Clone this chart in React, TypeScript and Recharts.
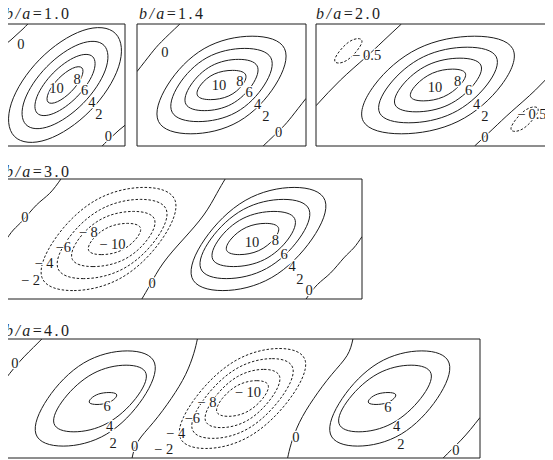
import { ScatterChart, Scatter, XAxis, YAxis, ReferenceArea } from "recharts";

const FONT = "'Liberation Serif', 'DejaVu Serif', serif";
const INK = "#1c1c1c";

// Closed loops are drawn as closed B-splines through these points.

// b/a = 1.0
const p1Solid = [
  [[0.967, 0.967], [0.995, 0.665], [0.733, 0.267], [0.335, 0.005], [0.033, 0.033], [0.005, 0.335], [0.267, 0.733], [0.665, 0.995]],
  [[0.86, 0.86], [0.873, 0.637], [0.667, 0.333], [0.363, 0.127], [0.14, 0.14], [0.127, 0.363], [0.333, 0.667], [0.637, 0.873]],
  [[0.757, 0.757], [0.757, 0.603], [0.609, 0.391], [0.397, 0.243], [0.243, 0.243], [0.243, 0.397], [0.391, 0.609], [0.603, 0.757]],
  [[0.656, 0.656], [0.651, 0.569], [0.559, 0.441], [0.431, 0.349], [0.344, 0.344], [0.349, 0.431], [0.441, 0.559], [0.569, 0.651]],
];
const p1Zero = [
  [[0, 0.83], [0.05, 0.87], [0.1, 0.915], [0.15, 0.96], [0.19, 1]],
  [[0.81, 0], [0.85, 0.04], [0.9, 0.085], [0.95, 0.13], [1, 0.17]],
];
const p1Labels = [
  { x: 0.43, y: 0.473, t: "10" }, { x: 0.6, y: 0.55, t: "8" }, { x: 0.663, y: 0.455, t: "6" },
  { x: 0.724, y: 0.36, t: "4" }, { x: 0.782, y: 0.262, t: "2" }, { x: 0.133, y: 0.838, t: "0" },
  { x: 0.862, y: 0.081, t: "0" },
];

// b/a = 1.4
const p2Solid = [
  [[0.5285, 0.84], [0.959, 0.93], [1.2765, 0.84], [1.163, 0.5], [0.8515, 0.16], [0.421, 0.07], [0.1035, 0.16], [0.217, 0.5]],
  [[0.554, 0.755], [0.894, 0.8225], [1.149, 0.755], [1.066, 0.5], [0.826, 0.245], [0.486, 0.1775], [0.231, 0.245], [0.314, 0.5]],
  [[0.5965, 0.6785], [0.8405, 0.726], [1.0215, 0.6785], [0.959, 0.5], [0.7835, 0.3215], [0.5395, 0.274], [0.3585, 0.3215], [0.421, 0.5]],
  [[0.622, 0.602], [0.787, 0.629], [0.911, 0.602], [0.873, 0.5], [0.758, 0.398], [0.593, 0.371], [0.469, 0.398], [0.507, 0.5]],
];
const p2Zero = [
  [[0, 0.61], [0.117, 0.76], [0.2, 0.855], [0.35, 1]],
  [[1.03, 0], [1.18, 0.145], [1.263, 0.24], [1.38, 0.39]],
];
const p2Labels = [
  { x: 0.227, y: 0.773, t: "0" }, { x: 0.67, y: 0.5, t: "10" }, { x: 0.84, y: 0.535, t: "8" },
  { x: 0.915, y: 0.44, t: "6" }, { x: 0.985, y: 0.345, t: "4" }, { x: 1.052, y: 0.25, t: "2" },
  { x: 1.156, y: 0.117, t: "0" },
];

// b/a = 2.0
const p3Solid = [
  [[0.813, 0.84], [1.3225, 0.93], [1.697, 0.84], [1.559, 0.5], [1.187, 0.16], [0.6775, 0.07], [0.303, 0.16], [0.441, 0.5]],
  [[0.864, 0.7635], [1.258, 0.833], [1.544, 0.7635], [1.43, 0.5], [1.136, 0.2365], [0.742, 0.167], [0.456, 0.2365], [0.57, 0.5]],
  [[0.9065, 0.687], [1.1935, 0.7365], [1.3995, 0.687], [1.312, 0.5], [1.0935, 0.313], [0.8065, 0.2635], [0.6005, 0.313], [0.688, 0.5]],
  [[0.949, 0.6105], [1.129, 0.64], [1.255, 0.6105], [1.1935, 0.5], [1.051, 0.3895], [0.871, 0.36], [0.745, 0.3895], [0.8065, 0.5]],
];
const p3Dashed = [
  [[0.2735, 0.865], [0.351, 0.8875], [0.3925, 0.865], [0.34, 0.78], [0.2565, 0.695], [0.179, 0.6725], [0.1375, 0.695], [0.19, 0.78]],
  [[1.7185, 0.305], [1.796, 0.3275], [1.8375, 0.305], [1.785, 0.22], [1.7015, 0.135], [1.624, 0.1125], [1.5825, 0.135], [1.635, 0.22]],
];
const p3Zero = [
  [[0, 0.33], [0.2, 0.54], [0.4, 0.72], [0.55, 0.86], [0.7, 1]],
  [[1.3, 0], [1.45, 0.14], [1.6, 0.28], [1.8, 0.46], [2, 0.67]],
];
const p3Labels = [
  { x: 0.415, y: 0.746, t: "−\u20090.5" }, { x: 0.975, y: 0.48, t: "10" }, { x: 1.16, y: 0.535, t: "8" },
  { x: 1.25, y: 0.455, t: "6" }, { x: 1.317, y: 0.345, t: "4" }, { x: 1.385, y: 0.25, t: "2" },
  { x: 1.385, y: 0.077, t: "0" }, { x: 1.77, y: 0.26, t: "−\u20090.5" },
];

// b/a = 3.0
const p4Solid = [
  [[2.0025, 0.8655], [2.4525, 0.962], [2.7675, 0.8655], [2.614, 0.5], [2.2575, 0.1345], [1.8075, 0.038], [1.4925, 0.1345], [1.646, 0.5]],
  [[1.9895, 0.7805], [2.358, 0.855], [2.6185, 0.7805], [2.498, 0.5], [2.2105, 0.2195], [1.842, 0.145], [1.5815, 0.2195], [1.702, 0.5]],
  [[1.988, 0.6955], [2.273, 0.747], [2.481, 0.6955], [2.402, 0.5], [2.192, 0.3045], [1.907, 0.253], [1.699, 0.3045], [1.778, 0.5]],
  [[2.0205, 0.6105], [2.198, 0.64], [2.3265, 0.6105], [2.2735, 0.5], [2.1395, 0.3895], [1.962, 0.36], [1.8335, 0.3895], [1.8865, 0.5]],
];
const p4Dashed = [
  [[0.9975, 0.1345], [0.5475, 0.038], [0.2325, 0.1345], [0.386, 0.5], [0.7425, 0.8655], [1.1925, 0.962], [1.5075, 0.8655], [1.354, 0.5]],
  [[1.0105, 0.2195], [0.642, 0.145], [0.3815, 0.2195], [0.502, 0.5], [0.7895, 0.7805], [1.158, 0.855], [1.4185, 0.7805], [1.298, 0.5]],
  [[1.012, 0.3045], [0.727, 0.253], [0.519, 0.3045], [0.598, 0.5], [0.808, 0.6955], [1.093, 0.747], [1.301, 0.6955], [1.222, 0.5]],
  [[0.9795, 0.3895], [0.802, 0.36], [0.6735, 0.3895], [0.7265, 0.5], [0.8605, 0.6105], [1.038, 0.64], [1.1665, 0.6105], [1.1135, 0.5]],
];
const p4Zero = [
  [[0, 0.48], [0.07, 0.575], [0.153, 0.658], [0.264, 0.783], [0.375, 0.88], [0.47, 1]],
  [[1.15, 0], [1.22, 0.12], [1.33, 0.3], [1.5, 0.5], [1.67, 0.7], [1.78, 0.88], [1.85, 1]],
  [[2.53, 0], [2.625, 0.12], [2.736, 0.217], [2.847, 0.342], [2.93, 0.425], [3, 0.52]],
];
const p4Labels = [
  { x: 0.167, y: 0.686, t: "0" }, { x: 0.214, y: 0.156, t: "− 2" }, { x: 0.328, y: 0.297, t: "− 4" },
  { x: 0.49, y: 0.436, t: "−6" }, { x: 0.7, y: 0.561, t: "− 8" }, { x: 0.903, y: 0.455, t: "− 10" },
  { x: 1.236, y: 0.13, t: "0" }, { x: 2.075, y: 0.478, t: "10" }, { x: 2.272, y: 0.495, t: "8" },
  { x: 2.345, y: 0.378, t: "6" }, { x: 2.412, y: 0.272, t: "4" }, { x: 2.478, y: 0.168, t: "2" },
  { x: 2.556, y: 0.075, t: "0" },
];

// b/a = 4.0
const p5Solid = [
  [[0.6495, 0.84], [1.05, 0.93], [1.3295, 0.84], [1.19, 0.5], [0.8705, 0.16], [0.47, 0.07], [0.1905, 0.16], [0.33, 0.5]],
  [[0.732, 0.738], [1.0365, 0.801], [1.242, 0.738], [1.1225, 0.5], [0.868, 0.262], [0.5635, 0.199], [0.358, 0.262], [0.4775, 0.5]],
  [[0.7825, 0.5425], [0.879, 0.554], [0.9525, 0.5425], [0.9325, 0.5], [0.8675, 0.4575], [0.771, 0.446], [0.6975, 0.4575], [0.7175, 0.5]],
  [[3.3505, 0.16], [2.95, 0.07], [2.6705, 0.16], [2.81, 0.5], [3.1295, 0.84], [3.53, 0.93], [3.8095, 0.84], [3.67, 0.5]],
  [[3.268, 0.262], [2.9635, 0.199], [2.758, 0.262], [2.8775, 0.5], [3.132, 0.738], [3.4365, 0.801], [3.642, 0.738], [3.5225, 0.5]],
  [[3.2175, 0.4575], [3.121, 0.446], [3.0475, 0.4575], [3.0675, 0.5], [3.1325, 0.5425], [3.229, 0.554], [3.3025, 0.5425], [3.2825, 0.5]],
];
const p5Dashed = [
  [[1.9235, 0.857], [2.333, 0.9515], [2.6035, 0.857], [2.43, 0.5], [2.0765, 0.143], [1.667, 0.0485], [1.3965, 0.143], [1.57, 0.5]],
  [[1.9405, 0.785], [2.269, 0.86], [2.4845, 0.785], [2.344, 0.5], [2.0595, 0.215], [1.731, 0.14], [1.5155, 0.215], [1.656, 0.5]],
  [[1.949, 0.708], [2.1935, 0.763], [2.357, 0.708], [2.258, 0.5], [2.051, 0.292], [1.8065, 0.237], [1.643, 0.292], [1.742, 0.5]],
  [[1.9575, 0.6275], [2.129, 0.661], [2.2465, 0.6275], [2.183, 0.5], [2.0425, 0.3725], [1.871, 0.339], [1.7535, 0.3725], [1.817, 0.5]],
];
const p5Zero = [
  [[0, 0.66], [0.08, 0.76], [0.16, 0.85], [0.24, 0.93], [0.31, 1]],
  [[1.07, 0], [1.12, 0.14], [1.25, 0.3], [1.4, 0.5], [1.52, 0.7], [1.59, 0.88], [1.62, 1]],
  [[2.38, 0], [2.41, 0.12], [2.48, 0.3], [2.6, 0.5], [2.75, 0.7], [2.88, 0.86], [2.93, 1]],
  [[3.69, 0], [3.76, 0.07], [3.84, 0.15], [3.92, 0.24], [4, 0.34]],
];
const p5Labels = [
  { x: 0.084, y: 0.8, t: "0" }, { x: 0.86, y: 0.44, t: "6" }, { x: 0.882, y: 0.269, t: "4" },
  { x: 0.91, y: 0.129, t: "2" }, { x: 1.092, y: 0.1, t: "0" }, { x: 1.336, y: 0.073, t: "− 2" },
  { x: 1.437, y: 0.207, t: "− 4" }, { x: 1.577, y: 0.333, t: "−6" }, { x: 1.7, y: 0.473, t: "− 8" },
  { x: 2.045, y: 0.557, t: "− 10" }, { x: 2.45, y: 0.179, t: "0" }, { x: 3.225, y: 0.43, t: "6" },
  { x: 3.297, y: 0.269, t: "4" }, { x: 3.333, y: 0.118, t: "2" }, { x: 3.796, y: 0.067, t: "0" },
];

const toPts = (c: number[][]) => c.map(([x, y]) => ({ x, y }));
const NoDot = () => <g />;

const Tag = (p: any) => (
  <text
    x={p.cx}
    y={p.cy}
    textAnchor="middle"
    dominantBaseline="central"
    fontSize={14.5}
    fontFamily={FONT}
    fill={INK}
    stroke="#fff"
    strokeWidth={2.5}
    paintOrder="stroke"
  >
    {p.payload?.t ?? p.t}
  </text>
);

interface PanelProps {
  ratio: string;
  span: number;
  left: number;
  top: number;
  w: number;
  h: number;
  titleTop: number;
  titleLeft: number;
  solid: number[][][];
  dashed: number[][][];
  zero: number[][][];
  labels: { x: number; y: number; t: string }[];
}

function Panel(p: PanelProps) {
  return (
    <>
      <div style={{ position: "absolute", left: p.left - 1, top: p.top - 1 }}>
        <ScatterChart width={p.w + 2} height={p.h + 2} margin={{ top: 1, right: 1, bottom: 1, left: 1 }}>
          <XAxis type="number" dataKey="x" domain={[0, p.span]} hide allowDataOverflow />
          <YAxis type="number" dataKey="y" domain={[0, 1]} hide allowDataOverflow />
          <ReferenceArea x1={0} x2={p.span} y1={0} y2={1} fill="none" stroke={INK} strokeWidth={1} />
          {p.zero.map((c, i) => (
            <Scatter
              key={"z" + i}
              data={toPts(c)}
              line={{ stroke: INK, strokeWidth: 1, fill: "none" }}
              lineJointType="natural"
              shape={NoDot}
              isAnimationActive={false}
            />
          ))}
          {p.solid.map((c, i) => (
            <Scatter
              key={"s" + i}
              data={toPts(c)}
              line={{ stroke: INK, strokeWidth: 1, fill: "none" }}
              lineJointType="basisClosed"
              shape={NoDot}
              isAnimationActive={false}
            />
          ))}
          {p.dashed.map((c, i) => (
            <Scatter
              key={"d" + i}
              data={toPts(c)}
              line={{ stroke: INK, strokeWidth: 1, fill: "none", strokeDasharray: "2.5 1.8" }}
              lineJointType="basisClosed"
              shape={NoDot}
              isAnimationActive={false}
            />
          ))}
          <Scatter data={p.labels} shape={Tag} isAnimationActive={false} />
        </ScatterChart>
      </div>
      <div
        style={{
          position: "absolute",
          left: p.titleLeft,
          top: p.titleTop,
          fontFamily: FONT,
          fontSize: 16,
          lineHeight: "16px",
          letterSpacing: 2.4,
          color: INK,
          whiteSpace: "nowrap",
        }}
      >
        <i>b/a</i>={p.ratio}
      </div>
    </>
  );
}

export default function App() {
  return (
    <div
      style={{
        position: "relative",
        width: 553,
        height: 460,
        marginTop: -8,
        marginLeft: -8,
        overflow: "hidden",
        background: "#fff",
      }}
    >
      <Panel ratio="1.0" span={1} left={5} top={24} w={120} h={122} titleLeft={5} titleTop={6}
        solid={p1Solid} dashed={[]} zero={p1Zero} labels={p1Labels} />
      <Panel ratio="1.4" span={1.38} left={137} top={24} w={169} h={122} titleLeft={139} titleTop={6}
        solid={p2Solid} dashed={[]} zero={p2Zero} labels={p2Labels} />
      <Panel ratio="2.0" span={2} left={316} top={24} w={244} h={122} titleLeft={316} titleTop={6}
        solid={p3Solid} dashed={p3Dashed} zero={p3Zero} labels={p3Labels} />
      <Panel ratio="3.0" span={3} left={5} top={179} w={357} h={120} titleLeft={5} titleTop={164}
        solid={p4Solid} dashed={p4Dashed} zero={p4Zero} labels={p4Labels} />
      <Panel ratio="4.0" span={4} left={5} top={339} w={475} h={119} titleLeft={5} titleTop={323}
        solid={p5Solid} dashed={p5Dashed} zero={p5Zero} labels={p5Labels} />
    </div>
  );
}
